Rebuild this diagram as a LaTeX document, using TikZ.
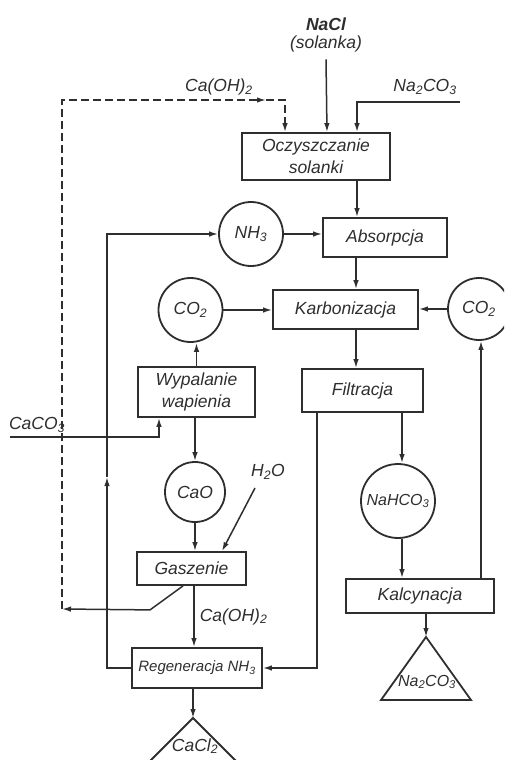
\documentclass[tikz,border=0pt]{standalone}
\usepackage{fontspec}
\setmainfont{Liberation Sans}
\usepackage{xcolor}
\definecolor{ink}{gray}{0.18}
\usetikzlibrary{arrows.meta,positioning,calc}

\begin{document}
\begin{tikzpicture}[
  x=1pt, y=-1pt,
  font=\fontsize{17.5}{22}\selectfont\itshape,
  proc/.style={rectangle, draw=ink, line width=1.8pt, inner sep=0pt,
    align=center, text=ink},
  subst/.style={circle, draw=ink, line width=1.8pt, inner sep=0pt,
    minimum size=64pt, text=ink},
  lbl/.style={text=ink, inner sep=1pt},
  flow/.style={line width=1.5pt, draw=ink},
  arr/.style={flow, -{Latex[length=9pt,width=5.5pt]}},
  dasharr/.style={arr, dash pattern=on 8pt off 4pt}
]

\useasboundingbox (0,0) rectangle (504,760);
\clip (0,0) rectangle (504,760);

%% -- Process boxes -------------------------------------------------------
\node[proc, minimum width=148pt, minimum height=47pt] (ocz) at (316,156.5)
    {Oczyszczanie\\solanki};
\node[proc, minimum width=124pt, minimum height=39pt] (abs) at (385,237.5)
    {Absorpcja};
\node[proc, minimum width=145pt, minimum height=39pt] (karb) at (345.5,309.5)
    {Karbonizacja};
\node[proc, minimum width=121pt, minimum height=43pt] (filt) at (362.5,390.5)
    {Filtracja};
\node[proc, minimum width=117pt, minimum height=50pt] (wyp) at (196.5,392)
    {Wypalanie\\wapienia};
\node[proc, minimum width=109pt, minimum height=33pt] (gasz) at (191.5,568.5)
    {Gaszenie};
\node[proc, minimum width=130pt, minimum height=40pt,
      font=\fontsize{15}{18}\selectfont\itshape] (regen) at (197,668)
    {Regeneracja NH\textsubscript{3}};
\node[proc, minimum width=148pt, minimum height=34pt] (kalc) at (420,596)
    {Kalcynacja};

%% -- Substances ----------------------------------------------------------
\node[subst] (nh3) at (251,234) {NH\textsubscript{3}};
\node[subst] (co2l) at (190.5,310) {CO\textsubscript{2}};
\node[subst, minimum size=62pt] (co2r) at (479,309) {CO\textsubscript{2}};
\node[subst, minimum size=60pt] (cao) at (195,492) {CaO};
\node[subst, minimum size=74pt,
      font=\fontsize{16}{20}\selectfont\itshape] (nahco3) at (398,501)
    {NaHCO\textsubscript{3}};

%% -- Products (triangles) ------------------------------------------------
\coordinate (na2co3apex) at (426,637);
\draw[flow, line width=1.8pt] (na2co3apex) -- ++(-45,63) -- ++(90,0) -- cycle;
\node[lbl, font=\fontsize{16}{20}\selectfont\itshape] (na2co3) at (427,682)
    {Na\textsubscript{2}CO\textsubscript{3}};

\coordinate (cacl2apex) at (193,718);
\draw[flow, line width=1.8pt] (cacl2apex) -- ++(-60,60) -- ++(120,0) -- cycle;
\node[lbl] (cacl2) at (195,746) {CaCl\textsubscript{2}};

%% -- Inputs --------------------------------------------------------------
\node[lbl, font=\fontsize{17.5}{22}\selectfont\bfseries\itshape] (nacl) at (326,24)
    {NaCl};
\node[lbl] (solanka) at (326,44) {(solanka)};
\node[lbl] (caoh2top) at (219,87) {Ca(OH)\textsubscript{2}};
\node[lbl] (na2co3in) at (425,87) {Na\textsubscript{2}CO\textsubscript{3}};
\node[lbl] (caco3) at (37,425) {CaCO\textsubscript{3}};
\node[lbl] (h2o) at (268,472) {H\textsubscript{2}O};

\coordinate (na2co3start) at (460,102);
\coordinate (caco3start) at (10,437);
\coordinate (h2ostart) at (255,488);
\coordinate (dbot) at (62,609);
\coordinate (dmid) at (266,100);
\coordinate (nh3up) at (107,477);

%% -- Brine purification --------------------------------------------------
\draw[arr] ([yshift=-6pt]solanka.south) -- ([xshift=11pt]ocz.north);
\draw[dasharr] (dbot) |- (dmid);
\draw[dasharr] (dmid) -| ([xshift=-31pt]ocz.north);
\draw[arr] (na2co3start) -| ([xshift=41pt]ocz.north);
\draw[arr] ([xshift=41pt]ocz.south) -- ([xshift=41pt]ocz.south |- abs.north);

%% -- Main line -----------------------------------------------------------
\draw[arr] (nh3.east) -- (nh3.east -| abs.west);
\draw[arr] ([xshift=10.5pt]karb.north |- abs.south) -- ([xshift=10.5pt]karb.north);
\draw[arr] (co2l.east) -- (co2l.east -| karb.west);
\draw[arr] (co2r.west) -- (co2r.west -| karb.east);
\draw[arr] ([xshift=10.5pt]karb.south) -- ([xshift=10.5pt]karb.south |- filt.north);
\draw[arr] ([xshift=39.5pt]filt.south) -- ([xshift=39.5pt]filt.south |- nahco3.north);
\draw[arr] ([xshift=4pt]nahco3.south) -- ([xshift=4pt]nahco3.south |- kalc.north);
\draw[arr] ([xshift=61pt]kalc.north) -- ([xshift=61pt]kalc.north |- co2r.south);
\draw[arr] ([xshift=6pt]kalc.south) -- (na2co3apex);
\draw[arr] ([xshift=-45.5pt]filt.south) |- (regen.east);

%% -- Lime line -----------------------------------------------------------
\draw[arr] (caco3start) -| ([xshift=-37.5pt]wyp.south);
\draw[arr] (wyp.north) -- (wyp.north |- co2l.south);
\draw[arr] (wyp.south -| cao.north) -- (cao.north);
\draw[arr] (cao.south) -- (cao.south |- gasz.north);
\draw[arr] (h2ostart) -- ([xshift=30.5pt]gasz.north);
\draw[arr] ([xshift=2.5pt]gasz.south) -- ([xshift=2.5pt]gasz.south |- regen.north)
    node[midway, right=4pt, lbl] {Ca(OH)\textsubscript{2}};
\draw[arr] ([xshift=-8.5pt]gasz.south) -- ++(-33,24) -- (dbot);

%% -- Ammonia recycle -----------------------------------------------------
\draw[arr] (regen.west) -| (nh3up);
\draw[arr] (nh3up) |- (nh3.west);
\draw[arr] ([xshift=-4pt]regen.south) -- (cacl2apex);

\end{tikzpicture}
\end{document}
